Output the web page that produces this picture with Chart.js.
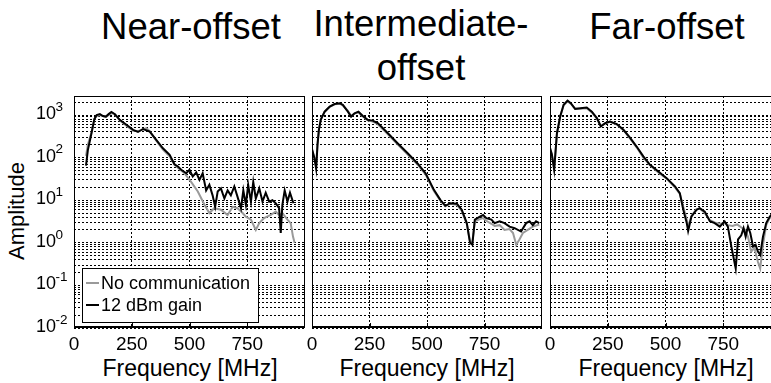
<!DOCTYPE html>
<html>
<head>
<meta charset="utf-8">
<script src="https://cdn.jsdelivr.net/npm/chart.js@4.4.1/dist/chart.umd.min.js"></script>
<style>
    html, body { margin: 0; padding: 0; background: #fff; overflow: hidden; }
    body { width: 771px; height: 383px; position: relative; font-family: "Liberation Sans", Arial, sans-serif; color: #000; }
    canvas { position: absolute; }
    .title { position: absolute; width: 300px; text-align: center; font-size: 36.5px; line-height: 44px; }
    .xlab { position: absolute; width: 260px; text-align: center; font-size: 23px; line-height: 26px; top: 355px; }
    .ylab { position: absolute; left: 15.5px; top: 211px; font-size: 22px; line-height: 25px; white-space: nowrap;
            transform: translate(-50%, -50%) rotate(-90deg); }
</style>
</head>
<body>
<div class="title" style="left:41px; top:5px;">Near-offset</div>
<div class="title" style="left:271px; top:2px;">Intermediate-<br>offset</div>
<div class="title" style="left:517px; top:5px;">Far-offset</div>
<div class="ylab">Amplitude</div>
<div class="xlab" style="left:60px;">Frequency [MHz]</div>
<div class="xlab" style="left:297px;">Frequency [MHz]</div>
<div class="xlab" style="left:536px;">Frequency [MHz]</div>

<canvas id="nearChart" width="307" height="262" style="left:0; top:90px;"></canvas>
<canvas id="midChart" width="245" height="262" style="left:300px; top:90px;"></canvas>
<canvas id="farChart" width="246" height="262" style="left:538px; top:90px;"></canvas>

<script>
// ── data (frequency in MHz, amplitude) ───────────────────────────────
const nearFreqQuiet = [52, 60, 76, 88, 98, 112, 138, 162, 177, 198, 227, 256, 277, 313, 328, 356, 385, 414, 435, 478, 507, 536, 565, 586, 607, 636, 665, 687, 708, 730, 744, 766, 787, 802, 823, 852, 873, 888, 902, 924, 938, 948, 955];
const nearQuiet = [110, 200, 400, 800, 950, 1000, 900, 1100, 1050, 750, 560, 430, 420, 490, 420, 250, 155, 108, 68, 43, 27, 16, 7.8, 5, 6.5, 6, 4.5, 7, 6.5, 5, 4.1, 3.5, 2, 2.9, 3.8, 4.5, 5.4, 4.5, 5, 3.5, 2.9, 1.4, 1.0];
const nearFreqGain = [52, 60, 76, 88, 98, 112, 125, 138, 150, 162, 177, 198, 227, 256, 277, 299, 328, 356, 385, 414, 435, 450, 464, 486, 500, 514, 529, 543, 557, 572, 586, 600, 611, 622, 636, 651, 665, 679, 694, 708, 723, 733, 744, 754, 766, 776, 787, 802, 816, 830, 845, 859, 873, 888, 895, 902, 912, 924, 935, 950];
const nearGain = [65, 150, 380, 800, 1000, 1050, 950, 920, 1050, 1180, 1050, 770, 590, 450, 400, 470, 410, 262, 166, 117, 70, 62, 52, 43, 52, 36, 45, 30, 43, 17, 23, 13, 7, 16, 19, 11, 17, 13, 21, 12, 6.5, 17, 7.8, 23, 9.3, 27, 11, 19, 9.3, 15, 9.3, 10, 8.5, 6.5, 1.7, 7.8, 17, 9.3, 15, 8.5];

const midFreqQuiet = [0, 10, 18, 24, 30, 38, 55, 77, 98, 120, 134, 156, 170, 185, 202, 220, 242, 264, 286, 329, 372, 415, 458, 494, 530, 558, 580, 601, 630, 651, 673, 687, 697, 708, 730, 744, 758, 780, 794, 816, 837, 859, 874, 888, 902, 917, 931, 960, 988];
const midQuiet = [150, 100, 60, 220, 460, 780, 1200, 1550, 1780, 1850, 1700, 1250, 950, 1080, 1150, 940, 750, 700, 610, 360, 205, 120, 70, 40, 16.5, 9.8, 7.2, 8.3, 7.8, 5.6, 2.8, 1.1, 1.0, 3.2, 3.6, 3.8, 3.3, 2.8, 2.5, 2.6, 2.0, 2.1, 1.7, 0.9, 1.2, 1.7, 1.9, 2.4, 2.7];
const midFreqGain = [0, 10, 18, 24, 30, 38, 55, 77, 98, 120, 134, 156, 170, 185, 202, 220, 242, 264, 286, 329, 372, 415, 458, 494, 530, 558, 580, 601, 630, 651, 673, 687, 697, 708, 730, 744, 758, 780, 794, 816, 837, 859, 881, 909, 931, 946, 960, 974, 988];
const midGain = [160, 100, 55, 200, 450, 770, 1200, 1580, 1810, 1900, 1740, 1200, 920, 1100, 1200, 960, 770, 740, 645, 380, 218, 128, 74, 43, 17.5, 10.2, 7.4, 8.5, 8.3, 6, 2.9, 1.0, 0.9, 3.5, 4.1, 4.5, 3.8, 3.5, 2.9, 3.2, 2.9, 2.4, 2.2, 1.84, 2.9, 3.2, 2.6, 3.2, 2.9];

const farFreqQuiet = [0, 8, 18, 30, 44, 59, 76, 90, 109, 131, 159, 181, 203, 220, 239, 260, 289, 318, 347, 375, 404, 433, 469, 505, 541, 562, 577, 592, 600, 612, 634, 648, 670, 692, 713, 735, 756, 770, 790, 810, 828, 845, 857, 871, 885, 900, 910, 922, 936, 951, 1000];
const farQuiet = [160, 115, 55, 360, 900, 1700, 2100, 1850, 1380, 1400, 1450, 1150, 830, 560, 640, 690, 600, 440, 280, 175, 100, 66, 45, 32, 20, 14, 7, 3.5, 2.4, 4.3, 6.2, 6.4, 5.0, 3.4, 3.0, 2.8, 2.9, 2.6, 2.5, 2.7, 2.3, 2.0, 1.4, 0.62, 0.76, 0.36, 0.25, 0.9, 2.6, 3.8, 6];
const farFreqGain = [0, 8, 18, 30, 44, 59, 76, 90, 109, 131, 159, 181, 203, 220, 239, 260, 289, 318, 347, 375, 404, 433, 469, 505, 541, 562, 577, 592, 598, 612, 634, 648, 670, 692, 713, 735, 756, 770, 785, 804, 814, 828, 838, 847, 857, 867, 879, 890, 900, 910, 922, 936, 951, 970, 1000];
const farGain = [170, 120, 52, 375, 920, 1740, 2190, 1900, 1400, 1450, 1500, 1200, 850, 540, 645, 705, 615, 450, 290, 182, 107, 68, 47, 33, 21, 14.7, 6, 2.9, 1.9, 4.1, 5.9, 6.5, 5.4, 3.2, 2.9, 2.4, 3.2, 2.4, 0.82, 0.25, 1.2, 1.5, 2.2, 1.4, 2.4, 1.7, 0.82, 0.9, 0.62, 0.52, 1.4, 2.9, 4.1, 5.5, 6];

const seriesNames = ['No communication', '12 dBm gain'];
const xTicks = [0, 250, 500, 750];
const decades = [-2, -1, 0, 1, 2, 3];

const FONT = '"Liberation Sans", Arial, sans-serif';
const GRAY = '#9a9a9a';

function toPoints(freq, vals) {
    return freq.map((f, i) => ({ x: f, y: vals[i] }));
}

// panel frame + small ticks at the bottom
const framePlugin = {
    id: 'frame',
    afterDatasetsDraw(chart) {
        const { ctx, chartArea: a, scales: { x } } = chart;
        ctx.save();
        ctx.strokeStyle = '#000';
        ctx.lineWidth = 1;
        ctx.strokeRect(a.left + 0.5, a.top + 0.5, a.right - a.left - 1, a.bottom - a.top - 1);
        ctx.lineWidth = 2;
        ctx.beginPath();
        ctx.moveTo(a.left, a.bottom - 1);
        ctx.lineTo(a.right, a.bottom - 1);
        ctx.stroke();
        ctx.lineWidth = 1;
        xTicks.slice(1).forEach((t) => {
            const px = Math.round(x.getPixelForValue(t)) + 0.5;
            ctx.beginPath();
            ctx.moveTo(px, a.bottom);
            ctx.lineTo(px, a.bottom - 5);
            ctx.stroke();
        });
        ctx.restore();
    },
};

// 10^n tick labels on the first panel
const powerLabels = {
    id: 'powerLabels',
    afterDraw(chart) {
        const { ctx, scales: { y } } = chart;
        ctx.save();
        ctx.fillStyle = '#000';
        ctx.textBaseline = 'middle';
        ctx.textAlign = 'left';
        decades.forEach((p) => {
            const py = y.getPixelForValue(Math.pow(10, p));
            ctx.font = '18px ' + FONT;
            ctx.fillText('10', 36, py - 1);
            ctx.font = '13.5px ' + FONT;
            ctx.fillText(String(p), 55.5, py - 8);
        });
        ctx.restore();
    },
};

// legend box inside the first panel
const boxLegend = {
    id: 'boxLegend',
    afterDatasetsDraw(chart) {
        const { ctx, chartArea: a } = chart;
        const x0 = a.left + 8, y0 = a.bottom - 60, w = 176, h = 54;
        ctx.save();
        ctx.fillStyle = '#fff';
        ctx.fillRect(x0, y0, w, h);
        ctx.strokeStyle = '#000';
        ctx.lineWidth = 1;
        ctx.strokeRect(x0 + 0.5, y0 + 0.5, w, h);
        const colors = [GRAY, '#000'];
        const rows = [y0 + 15, y0 + 37];
        ctx.font = '18px ' + FONT;
        ctx.textBaseline = 'middle';
        ctx.fillStyle = '#000';
        seriesNames.forEach((name, i) => {
            ctx.strokeStyle = colors[i];
            ctx.lineWidth = 2;
            ctx.beginPath();
            ctx.moveTo(x0 + 4, rows[i]);
            ctx.lineTo(x0 + 17, rows[i]);
            ctx.stroke();
            ctx.fillText(name, x0 + 19, rows[i] + 1);
        });
        ctx.restore();
    },
};

function makePanel(id, quiet, gain, opts) {
    const plugins = [framePlugin];
    if (opts.first) plugins.push(powerLabels, boxLegend);
    return new Chart(document.getElementById(id), {
        type: 'line',
        data: {
            datasets: [
                {
                    label: seriesNames[1],
                    data: gain,
                    borderColor: '#000',
                    borderWidth: 2,
                    pointRadius: 0,
                    tension: 0,
                },
                {
                    label: seriesNames[0],
                    data: quiet,
                    borderColor: GRAY,
                    borderWidth: 2,
                    pointRadius: 0,
                    tension: 0,
                },
            ],
        },
        options: {
            responsive: false,
            animation: false,
            events: [],
            layout: { padding: opts.padding },
            plugins: { legend: { display: false }, tooltip: { enabled: false } },
            scales: {
                x: {
                    type: 'linear',
                    min: 0,
                    max: 1000,
                    afterBuildTicks: (s) => { s.ticks = xTicks.map((v) => ({ value: v })); },
                    afterFit: (s) => { s.height = 24; },
                    grid: { color: '#000', lineWidth: 1, drawTicks: false },
                    border: { display: false, dash: [2, 2] },
                    ticks: {
                        color: '#000',
                        font: { family: FONT, size: 19 },
                        padding: 5,
                        maxRotation: 0,
                        autoSkip: false,
                    },
                },
                y: {
                    type: 'logarithmic',
                    min: 0.01,
                    max: 2800,
                    afterBuildTicks: (s) => {
                        const t = [];
                        decades.forEach((p) => {
                            for (let m = 1; m <= 9; m++) {
                                const v = m * Math.pow(10, p);
                                if (v >= 0.01 && v <= 2800) t.push({ value: v });
                            }
                        });
                        s.ticks = t;
                    },
                    afterFit: (s) => { s.width = opts.first ? 74 : 0; },
                    grid: { color: '#000', lineWidth: 1, drawTicks: false },
                    border: { display: false, dash: [2, 2] },
                    ticks: { display: false },
                },
            },
        },
        plugins,
    });
}

makePanel('nearChart', toPoints(nearFreqQuiet, nearQuiet), toPoints(nearFreqGain, nearGain),
    { first: true, padding: { top: 6, right: 2, left: 0, bottom: 0 } });
makePanel('midChart', toPoints(midFreqQuiet, midQuiet), toPoints(midFreqGain, midGain),
    { first: false, padding: { top: 6, right: 3, left: 12, bottom: 0 } });
makePanel('farChart', toPoints(farFreqQuiet, farQuiet), toPoints(farFreqGain, farGain),
    { first: false, padding: { top: 6, right: 3, left: 12, bottom: 0 } });
</script>
</body>
</html>
